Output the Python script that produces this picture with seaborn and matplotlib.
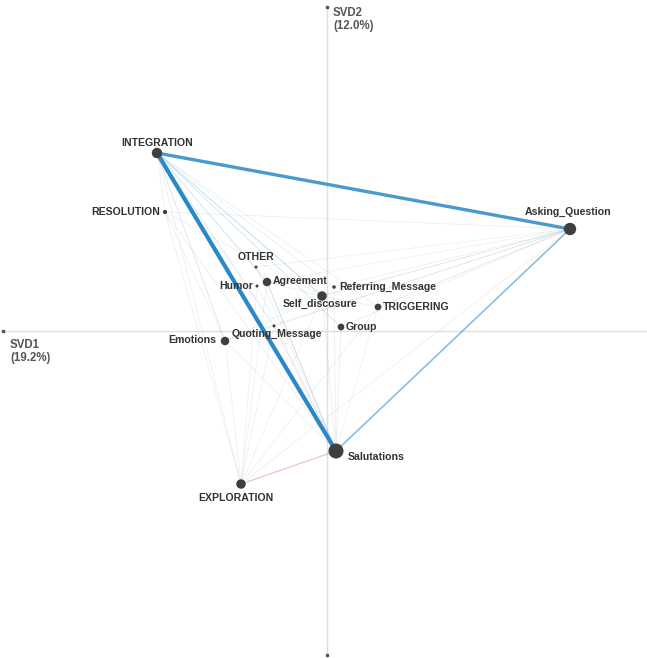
import matplotlib
matplotlib.use("Agg")
import matplotlib.pyplot as plt
import numpy as np
import pandas as pd
import seaborn as sns

# Node coordinates in the SVD1 / SVD2 plane and node sizes (code frequency)
codes = ["INTEGRATION", "RESOLUTION", "Asking_Question", "OTHER", "Agreement",
         "Humor", "Referring_Message", "Self_discosure", "TRIGGERING", "Group",
         "Quoting_Message", "Emotions", "Salutations", "EXPLORATION"]
svd1 = [-1.70, -1.62, 2.43, -0.71, -0.60, -0.70, 0.07, -0.05, 0.51, 0.14,
        -0.53, -1.02, 0.09, -0.86]
svd2 = [1.78, 1.19, 1.02, 0.64, 0.49, 0.45, 0.44, 0.35, 0.24, 0.04,
        0.05, -0.10, -1.20, -1.53]
node_size = [8.5, 3.5, 11.0, 3.0, 6.5, 3.0, 3.2, 7.5, 5.0, 5.0,
             3.0, 6.5, 15.0, 7.5]

# Connections: (code a, code b, strength, group)  b = blue, r = red, g = neutral
edges = [
    ("INTEGRATION", "Salutations", 3.0, "b"),
    ("INTEGRATION", "Asking_Question", 2.4, "b"),
    ("Asking_Question", "Salutations", 1.2, "b"),
    ("EXPLORATION", "Salutations", 0.9, "r"),
    ("INTEGRATION", "Self_discosure", 0.6, "b"),
    ("INTEGRATION", "Agreement", 0.5, "b"),
    ("Agreement", "Salutations", 0.6, "b"),
    ("INTEGRATION", "Group", 0.4, "b"),
    ("INTEGRATION", "Quoting_Message", 0.4, "b"),
    ("INTEGRATION", "Emotions", 0.35, "b"),
    ("INTEGRATION", "EXPLORATION", 0.35, "g"),
    ("INTEGRATION", "TRIGGERING", 0.3, "g"),
    ("INTEGRATION", "Referring_Message", 0.3, "g"),
    ("INTEGRATION", "RESOLUTION", 0.3, "g"),
    ("RESOLUTION", "Asking_Question", 0.35, "g"),
    ("RESOLUTION", "Salutations", 0.35, "g"),
    ("RESOLUTION", "EXPLORATION", 0.3, "g"),
    ("RESOLUTION", "Self_discosure", 0.3, "g"),
    ("RESOLUTION", "Emotions", 0.3, "g"),
    ("Asking_Question", "Emotions", 0.4, "g"),
    ("Asking_Question", "Self_discosure", 0.35, "b"),
    ("Asking_Question", "TRIGGERING", 0.4, "r"),
    ("Asking_Question", "Referring_Message", 0.3, "g"),
    ("Asking_Question", "Group", 0.3, "g"),
    ("Asking_Question", "Quoting_Message", 0.3, "g"),
    ("Asking_Question", "EXPLORATION", 0.3, "g"),
    ("Asking_Question", "Agreement", 0.3, "g"),
    ("Asking_Question", "OTHER", 0.25, "g"),
    ("EXPLORATION", "Agreement", 0.3, "g"),
    ("EXPLORATION", "Self_discosure", 0.3, "g"),
    ("EXPLORATION", "Emotions", 0.3, "g"),
    ("EXPLORATION", "Quoting_Message", 0.3, "g"),
    ("EXPLORATION", "TRIGGERING", 0.3, "g"),
    ("EXPLORATION", "Humor", 0.25, "g"),
    ("Salutations", "Self_discosure", 0.4, "g"),
    ("Salutations", "Group", 0.4, "g"),
    ("Salutations", "Referring_Message", 0.3, "g"),
    ("Salutations", "TRIGGERING", 0.3, "g"),
    ("Salutations", "Quoting_Message", 0.4, "r"),
    ("Salutations", "Emotions", 0.3, "g"),
    ("Salutations", "OTHER", 0.3, "g"),
    ("Salutations", "Humor", 0.25, "g"),
    ("Emotions", "Quoting_Message", 0.25, "g"),
    ("Emotions", "Self_discosure", 0.25, "g"),
    ("Self_discosure", "TRIGGERING", 0.25, "g"),
    ("Agreement", "Self_discosure", 0.25, "g"),
]

# Label placement around each node: (dx, dy) in pixels, ha
label_pos = {
    "INTEGRATION": (0, 10, "center"),
    "RESOLUTION": (-5, 0, "right"),
    "Asking_Question": (-2, 17, "center"),
    "OTHER": (0, 10, "center"),
    "Agreement": (6, 1, "left"),
    "Humor": (-4, 0, "right"),
    "Referring_Message": (5, 0, "left"),
    "Self_discosure": (-2, -8, "center"),
    "TRIGGERING": (5, 0, "left"),
    "Group": (5, 0, "left"),
    "Quoting_Message": (3, -8, "center"),
    "Emotions": (-9, 1, "right"),
    "Salutations": (12, -6, "left"),
    "EXPLORATION": (-5, -14, "center"),
}

nodes = pd.DataFrame({"code": codes, "SVD1": svd1, "SVD2": svd2, "size": node_size})
pos = {c: (x, y) for c, x, y in zip(codes, svd1, svd2)}

sns.set_theme(style="white")
plt.rcParams["font.family"] = ["Liberation Sans", "DejaVu Sans"]

fig = plt.figure(figsize=(6.47, 6.58), dpi=100)
ax = fig.add_axes([0, 0, 1, 1])

# Axes through the origin
ax.plot([-3.24, 3.30], [0, 0], color="#e0e0e0", lw=1.0, zorder=0)
ax.plot([0, 0], [-3.24, 3.24], color="#e0e0e0", lw=1.0, zorder=0)
ax.plot([-3.24, 0, 0], [0, 3.24, -3.24], ls="none", marker="s", ms=1.6,
        color="#555555", zorder=1)

palette = {"b": "#2a88c8", "r": "#cf6f6f", "g": "#a9b1b8"}
for a, b, w, grp in sorted(edges, key=lambda e: e[2]):
    (x0, y0), (x1, y1) = pos[a], pos[b]
    if w < 1.0:
        alpha = min(1.0, 0.15 + 0.28 * w)
    else:
        alpha = min(1.0, 0.25 + 0.25 * w)
    seg = pd.DataFrame({"SVD1": [x0, x1], "SVD2": [y0, y1]})
    sns.lineplot(data=seg, x="SVD1", y="SVD2", sort=False, ax=ax,
                 color=palette[grp], lw=max(w, 0.5), alpha=alpha, zorder=2)

lo, hi = min(node_size), max(node_size)
sns.scatterplot(data=nodes, x="SVD1", y="SVD2", size="size",
                sizes=((lo * 0.72) ** 2, (hi * 0.72) ** 2), size_norm=(lo, hi),
                color="#3f3f3f", edgecolor="none", legend=False, ax=ax, zorder=5)
ax.set_xlim(-3.27, 3.20)
ax.set_ylim(-3.27, 3.31)
ax.set_axis_off()

for c, x, y in zip(codes, svd1, svd2):
    dx, dy, ha = label_pos[c]
    ax.annotate(c, (x, y), xytext=(dx, dy), textcoords="offset pixels",
                ha=ha, va="center", fontsize=7.6, fontweight="bold",
                color="#333333", zorder=6)

ax.text(0.06, 3.24, "SVD2\n(12.0%)", ha="left", va="top", fontsize=8.3,
        color="#555555", fontweight="bold", linespacing=1.1)
ax.text(-3.17, -0.08, "SVD1\n(19.2%)", ha="left", va="top", fontsize=8.3,
        color="#555555", fontweight="bold", linespacing=1.1)

fig.savefig("out.png", dpi=100, facecolor="white")
